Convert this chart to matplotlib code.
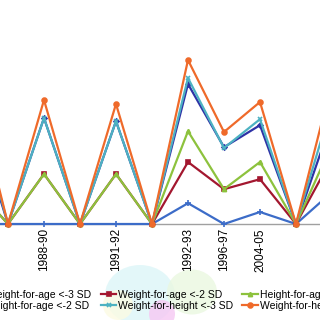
import matplotlib
matplotlib.use('Agg')
import matplotlib.pyplot as plt
from matplotlib.patches import Ellipse

plt.rcParams['font.family'] = ['Liberation Sans', 'DejaVu Sans']

# Survey rounds (the chart is cropped: first and last rounds sit outside the frame)
positions = [-1, 0, 1, 2, 3, 4, 5, 6, 7, 8, 9]
tick_pos = [1, 3, 5, 6, 7]
tick_labels = ['1988-90', '1991-92', '1992-93', '1996-97', '2004-05']

# Prevalence values
wfa_3 = [0, 0, 0, 0, 0, 0, 5.2, 0, 3.0, 0, 8.0]
hfa_2 = [29, 0, 26.5, 0, 25.7, 0, 35.0, 19.2, 24.7, 0, 26.0]
wfa_2 = [10, 0, 12.5, 0, 12.5, 0, 15.5, 8.7, 11.2, 0, 16.5]
wfh_3 = [33, 0, 26.5, 0, 25.7, 0, 36.5, 19.0, 26.2, 0, 30.0]
hfa_3 = [10, 0, 12.5, 0, 12.5, 0, 23.2, 8.7, 15.5, 0, 20.0]
wfh_2 = [36, 0, 31.0, 0, 30.0, 0, 41.0, 23.0, 30.5, 0, 35.5]

series = [
    (wfa_3, 'Weight-for-age <-3 SD', '#3C6CC8', '+', 4),
    (hfa_2, 'Height-for-age <-2 SD', '#2E32A6', 'D', 2.5),
    (wfa_2, 'Weight-for-age <-2 SD', '#A3172F', 's', 3.5),
    (hfa_3, 'Height-for-age <-3 SD', '#8DC23D', '^', 3),
    (wfh_3, 'Weight-for-height <-3 SD', '#4DB2C2', 'x', 3),
    (wfh_2, 'Weight-for-height <-2 SD', '#EF6A2A', 'o', 3.5),
]
legend_order = [0, 1, 2, 4, 3, 5]

fig = plt.figure(figsize=(3.2, 3.2), dpi=100)

# faint watermark blur at the bottom
for (x, y, w, h, c) in [(140, 295, 70, 60, '#DDF6F8'), (192, 292, 50, 45, '#EAF8E0'),
                        (162, 314, 26, 28, '#F6C8F3'), (118, 305, 30, 30, '#FCFBE3')]:
    fig.add_artist(Ellipse((x / 320, 1 - y / 320), w / 320, h / 320,
                           transform=fig.transFigure, color=c, lw=0, alpha=0.8, zorder=0))

ax = fig.add_axes([0, 0, 1, 1])
ax.patch.set_alpha(0)

handles = []
for vals, lab, col, mk, ms in series:
    h, = ax.plot(positions, vals, color=col, lw=1.6, marker=mk, markersize=ms,
                 markeredgewidth=1.2, label=lab)
    handles.append(h)

ax.set_xlim(-0.222, 8.667)
ax.set_ylim(-24, 56)

for s in ['top', 'right', 'left']:
    ax.spines[s].set_visible(False)
ax.spines['bottom'].set_position(('data', 0))
ax.spines['bottom'].set_color('#A0A0A0')
ax.spines['bottom'].set_linewidth(1.0)
ax.spines['bottom'].set_zorder(0)
ax.set_yticks([])
ax.set_xticks(tick_pos)
ax.set_xticklabels(tick_labels, rotation=90, fontsize=8.5)
ax.tick_params(axis='x', length=0, pad=3)

leg_handles = [handles[i] for i in legend_order]
fig.legend(leg_handles, [h.get_label() for h in leg_handles], ncol=3, loc='upper left',
           bbox_to_anchor=(-30 / 320, 1 - 290 / 320), frameon=False, fontsize=7.5,
           borderpad=0, borderaxespad=0, handlelength=1.5, handletextpad=0.15,
           columnspacing=0.9, labelspacing=0.1)

fig.savefig('out.png', dpi=100)
